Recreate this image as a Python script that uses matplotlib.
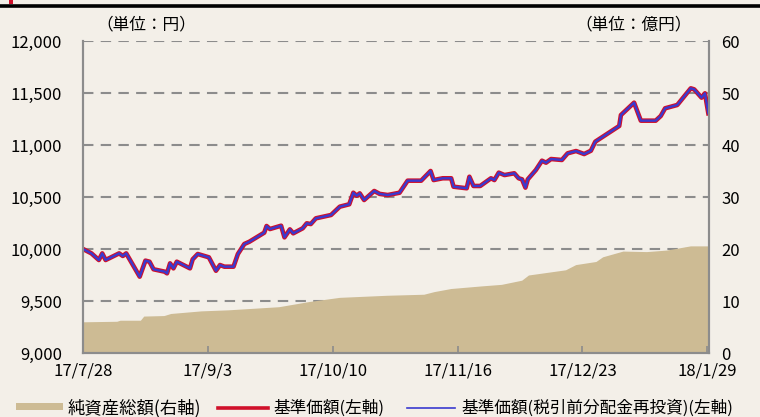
import pandas as pd
import matplotlib.pyplot as plt
from matplotlib.lines import Line2D
from matplotlib.patches import Rectangle

plt.rcParams['font.family'] = ['Noto Sans CJK JP', 'DejaVu Sans']

start = pd.Timestamp('2017-07-28')

# 基準価額 (円): days after 2017/7/28, value
nav_days = [0, 2.5, 4.7, 5.7, 6.7, 10.7, 11.8, 12.8, 16.8, 18.5, 19.7, 20.9, 24.2, 24.9,
            25.8, 26.8, 27.8, 31.7, 32.5, 34, 37.3, 39.4, 40.6, 41.9, 44.6, 45.9, 47.8,
            49.3, 53.7, 54.4, 55.4, 58.7, 59.7, 61.3, 62.3, 65.1, 66.3, 67.5, 69, 73.5,
            76.1, 78.9, 80.1, 81.1, 82, 83.3, 86.3, 87.9, 90.3, 93.8, 96.2, 100.2, 103,
            103.9, 106.6, 109.1, 109.8, 113.7, 114.5, 115.7, 117.7, 120.9, 121.9, 123.2,
            124.9, 127.8, 129.1, 130.1, 131.1, 131.8, 134.2, 136, 137.2, 138.7, 141.9,
            143.6, 146.1, 148.5, 150.5, 151.8, 158.9, 159.4, 163.3, 165.3, 169.7, 171.2,
            172.5, 176.1, 180.1, 181.1, 183.3, 184.3, 185.3]
nav = [10000, 9958, 9894, 9958, 9894, 9958, 9933, 9958, 9734, 9888, 9878, 9805, 9782, 9766,
       9862, 9814, 9878, 9814, 9901, 9952, 9920, 9791, 9846, 9830, 9830, 9952, 10048,
       10070, 10157, 10221, 10192, 10224, 10112, 10189, 10151, 10199, 10247, 10240, 10295, 10327,
       10407, 10430, 10541, 10512, 10535, 10471, 10558, 10530, 10519, 10541, 10657, 10657, 10750,
       10663, 10680, 10680, 10599, 10584, 10695, 10606, 10606, 10680, 10663, 10734,
       10711, 10728, 10680, 10670, 10590, 10670, 10760, 10849, 10830, 10865, 10856,
       10920, 10942, 10913, 10945, 11032, 11183, 11288, 11407, 11234, 11234, 11279,
       11353, 11385, 11545, 11535, 11455, 11497, 11305]

# 純資産総額 (億円)
aum_days = [0, 10, 11, 17, 18, 24, 26, 35, 43, 58, 67, 76, 90, 101, 104, 109, 118, 124,
            130, 132, 143, 146, 152, 154, 160, 167, 173, 180, 185.5]
aum = [6.0, 6.1, 6.3, 6.3, 7.1, 7.2, 7.6, 8.1, 8.3, 8.9, 9.9, 10.7, 11.1, 11.3, 11.8, 12.4,
       12.9, 13.2, 14.0, 15.0, 16.0, 17.0, 17.6, 18.5, 19.6, 19.5, 19.8, 20.6, 20.6]

tick_dates = ['2017-07-28', '2017-09-03', '2017-10-10', '2017-11-16', '2017-12-23', '2018-01-29']
tick_labels = ['17/7/28', '17/9/3', '17/10/10', '17/11/16', '17/12/23', '18/1/29']

nav_x = start + pd.to_timedelta(nav_days, unit='D')
aum_x = start + pd.to_timedelta(aum_days, unit='D')

bg = '#F3EFE8'
gray = '#8C8C8C'
tan = '#CDBB94'

fig = plt.figure(figsize=(7.6, 4.17), dpi=100, facecolor=bg)
ax = fig.add_axes([83/760, 1-353/417, 626/760, 312/417])
ax2 = ax.twinx()
ax.set_zorder(ax2.get_zorder() + 1)
ax.patch.set_visible(False)
ax2.set_facecolor(bg)

ax2.fill_between(aum_x, aum, 0, color=tan, lw=0, zorder=2)
ax2.set_ylim(0, 60)
ax2.set_yticks(range(0, 61, 10))
ax2.grid(axis='y', color=gray, ls=(0, (5, 3.5)), lw=1.5)
ax2.set_axisbelow(True)

ax.plot(nav_x, nav, color='#D0102A', lw=3.3, solid_joinstyle='round')
ax.plot(nav_x, nav, color='#3A3ACF', lw=1.7, solid_joinstyle='round')
ax.set_ylim(9000, 12000)
ax.set_yticks(range(9000, 12001, 500))
ax.yaxis.set_major_formatter(plt.FuncFormatter(lambda v, p: f'{int(v):,}'))
ax.set_xlim(start, start + pd.Timedelta(days=185.5))
ax.set_xticks(pd.to_datetime(tick_dates))
ax.set_xticklabels(tick_labels)

for a in (ax, ax2):
    a.spines['top'].set_visible(False)
    for s in ('left', 'right', 'bottom'):
        a.spines[s].set_color(gray)
        a.spines[s].set_linewidth(1.5)
ax.tick_params(axis='x', direction='in', length=5, width=1.2, color=gray, pad=7, labelsize=12)
ax.tick_params(axis='y', length=0, pad=15, labelsize=12)
ax2.tick_params(axis='y', length=0, pad=9, labelsize=12)

fig.text(96/760, 1-25/417, '（単位：円）', fontsize=12, va='center', ha='left')
fig.text(692/760, 1-25/417, '（単位：億円）', fontsize=12, va='center', ha='right')

# title strip, cut off at the top edge as in the source
fig.text(30/760, 1-4/417, '基準価額・純資産の推移', fontsize=19, weight='bold', va='bottom', ha='left')
fig.add_artist(Line2D([0, 1], [1-5.8/417]*2, color='black', lw=2.6))
fig.add_artist(Rectangle((9/760, 1-4/417), 4/760, 4/417, color='#D0102A', lw=0))

# legend
ly = 1 - 408/417
fig.add_artist(Rectangle((16/760, 1-410/417), 47/760, 7/417, color=tan, lw=0))
fig.text(68/760, ly, '純資産総額(右軸)', fontsize=12.5, va='center', ha='left')
fig.add_artist(Line2D([218/760, 268/760], [ly, ly], color='#D0102A', lw=2.6))
fig.text(273/760, ly, '基準価額(左軸)', fontsize=12, va='center', ha='left')
fig.add_artist(Line2D([407/760, 455/760], [ly, ly], color='#3A3ACF', lw=1.2))
fig.text(461/760, ly, '基準価額(税引前分配金再投資)(左軸)', fontsize=12, va='center', ha='left')

fig.savefig('out.png', dpi=100, facecolor=bg)
